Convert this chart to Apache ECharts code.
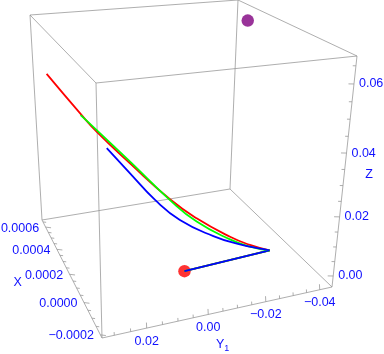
<!DOCTYPE html><html><head><meta charset="utf-8">
<script src="https://cdn.jsdelivr.net/npm/echarts@6/dist/echarts.min.js"></script>
<style>html,body{margin:0;padding:0;background:#fff}#c{width:384px;height:354px}</style>
</head><body><div id="c"></div>
<script>
// ---- data (X, Y1, Z) ----
const redX=[0.0006,0.00051,0.000465,0.000376,0.000268,0.000196,0.000106,0.0000525,0];
const redY=[0.0304,0.0213,0.0167,0.0073,-0.0040,-0.0115,-0.0208,-0.0262,-0.0314];
const redZ=[0.0501,0.0385,0.0330,0.0237,0.0133,0.0081,0.0036,0.0020,0.0014];
const greenX=[0.0004,0.000366,0.000296,0.000211,0.000154,0.0000837,0.0000413,0];
const greenY=[0.0236,0.0191,0.0096,-0.0020,-0.0099,-0.0198,-0.0257,-0.0314];
const greenZ=[0.0412,0.0368,0.0273,0.0155,0.0089,0.0038,0.0020,0.0014];
const blueX=[0.0003,0.000257,0.000211,0.000165,0.0001036,0.0000544,0.0000114,0];
const blueY=[0.0175,0.0108,0.0034,-0.0041,-0.0143,-0.0224,-0.0295,-0.0314];
const blueZ=[0.0327,0.0249,0.0164,0.0100,0.0051,0.0028,0.0017,0.0014];
const startPoint=[0,0,0];
const jumpPoint=[0,-0.0314,0.0014];
const purplePoint=[0.0005,-0.0416,0.0639];
const xTicks=[-0.0002,0,0.0002,0.0004,0.0006];
const xTickLabels=['\u22120.0002','0.0000','0.0002','0.0004','0.0006'];
const yTicks=[-0.04,-0.02,0,0.02];
const yTickLabels=['\u22120.04','\u22120.02','0.00','0.02'];
const zTicks=[0,0.02,0.04,0.06];
const zTickLabels=['0.00','0.02','0.04','0.06'];
const XR=[-0.000218,0.000669], YR=[-0.04474,0.0337], ZR=[-0.00389,0.06766];
// ---- view (perspective box: screen corners and relative depths) ----
const CORNER={'000':[332,287],'010':[102,338],'100':[230,189],'110':[42,220],'001':[357,56],'011':[96,83],'101':[238,0],'111':[30,15]};
const DEPTH=[1,0.277,-0.1228,-0.1304];
function proj(X,Y,Z){
 const u=(X-XR[0])/(XR[1]-XR[0]), v=(Y-YR[0])/(YR[1]-YR[0]), w=(Z-ZR[0])/(ZR[1]-ZR[0]);
 let sx=0,sy=0,sd=0;
 for(let a=0;a<2;a++)for(let b=0;b<2;b++)for(let c=0;c<2;c++){
   const wt=(a?u:1-u)*(b?v:1-v)*(c?w:1-w);
   const dd=DEPTH[0]+DEPTH[1]*a+DEPTH[2]*b+DEPTH[3]*c;
   const p=CORNER[''+a+b+c];
   sx+=wt*dd*p[0]; sy+=wt*dd*p[1]; sd+=wt*dd;
 }
 return [sx/sd, sy/sd];
}
const curve=(xs,ys,zs)=>xs.map((x,i)=>proj(x,ys[i],zs[i]));
// box edges
const edges=[];
const c3=(a,b,c)=>[XR[a],YR[b],ZR[c]];
[[0,0,0,1,0,0],[0,1,0,1,1,0],[0,0,1,1,0,1],[0,1,1,1,1,1],
 [0,0,0,0,1,0],[1,0,0,1,1,0],[0,0,1,0,1,1],[1,0,1,1,1,1],
 [0,0,0,0,0,1],[0,1,0,0,1,1],[1,0,0,1,0,1],[1,1,0,1,1,1]].forEach(e=>{
  const p=proj(...c3(e[0],e[1],e[2])), q=proj(...c3(e[3],e[4],e[5]));
  edges.push([p[0],p[1],q[0],q[1]]);
});
// ticks
const ticks=[];
function addTicks(from,to,step,major,base,dir){
  for(let t=from;t<=to+1e-12;t+=step){
    const isMaj=major.some(m=>Math.abs(m-t)<step*0.01);
    const p=proj(...base(t)); const L=isMaj?5.5:3.2;
    ticks.push([p[0],p[1],p[0]+dir[0]*L,p[1]+dir[1]*L]);
  }
}
addTicks(-0.0002,0.00065,0.00005,xTicks,t=>[t,YR[1],ZR[0]],[0.99,0.12]);
addTicks(-0.04,0.03,0.005,yTicks,t=>[XR[0],t,ZR[0]],[-0.05,-1]);
addTicks(0,0.065,0.005,zTicks,t=>[XR[0],YR[0],t],[-1,-0.02]);
// labels
const texts=[];
xTicks.forEach((t,i)=>{const p=proj(t,YR[1],ZR[0]);texts.push({x:p[0]-6.5,y:p[1]+1,t:xTickLabels[i],a:'right'});});
yTicks.forEach((t,i)=>{const p=proj(XR[0],t,ZR[0]);texts.push({x:p[0],y:p[1]+13,t:yTickLabels[i],a:'center'});});
zTicks.forEach((t,i)=>{const p=proj(XR[0],YR[0],t);texts.push({x:p[0]+5,y:p[1],t:zTickLabels[i],a:'left'});});
{const p=proj(0.0002,YR[1],ZR[0]);texts.push({x:p[0]-52,y:p[1]+8,t:'X',a:'center'});}
{const p=proj(XR[0],0,ZR[0]);texts.push({x:p[0]+12,y:p[1]+30,t:'Y',a:'center'});texts.push({x:p[0]+18.5,y:p[1]+34,t:'1',a:'center',s:9});}
{const p=proj(XR[0],YR[0],0.03);texts.push({x:p[0]+26,y:p[1]-11.5,t:'Z',a:'center'});}

const FONT='"Liberation Sans", Arial, sans-serif';
const segSeries=(data,color,w)=>({type:'custom',data:data,silent:true,
  renderItem:(params,api)=>{const a=api.coord([api.value(0),api.value(1)]),b=api.coord([api.value(2),api.value(3)]);
   return {type:'line',shape:{x1:a[0],y1:a[1],x2:b[0],y2:b[1]},style:{stroke:color,lineWidth:w}};}});
const lineS=(data,color,sm)=>({type:'line',data:data,showSymbol:false,smooth:sm,lineStyle:{color:color,width:1.8},itemStyle:{color:color}});
const jump=[proj(...startPoint),proj(...jumpPoint)];
const chart=echarts.init(document.getElementById('c'));
chart.setOption({animation:false,grid:{left:0,right:0,top:0,bottom:0},
xAxis:{type:'value',min:0,max:384,show:false},yAxis:{type:'value',min:0,max:354,inverse:true,show:false},
series:[
segSeries(edges,'#939393',0.75),
segSeries(ticks,'#939393',0.75),
{type:'custom',data:texts.map(o=>[o.x,o.y]),silent:true,renderItem:(params,api)=>{const o=texts[params.dataIndex];const p=api.coord([api.value(0),api.value(1)]);
  return {type:'text',x:p[0],y:p[1],style:{text:o.t,align:o.a,verticalAlign:'middle',fill:'#1010ff',font:(o.s||12.5)+'px '+FONT}};}},
lineS(jump,'#f00',false),lineS(jump,'#0f0',false),lineS(jump,'#00f',false),
lineS(curve(redX,redY,redZ),'#f00',0.5),
lineS(curve(greenX,greenY,greenZ),'#0f0',0.5),
lineS(curve(blueX,blueY,blueZ),'#00f',0.5),
{type:'scatter',data:[proj(...startPoint)],symbolSize:12.5,itemStyle:{color:'#f00'}},
{type:'scatter',data:[proj(...purplePoint)],symbolSize:12.5,itemStyle:{color:'#800080'}}
]});
</script></body></html>
